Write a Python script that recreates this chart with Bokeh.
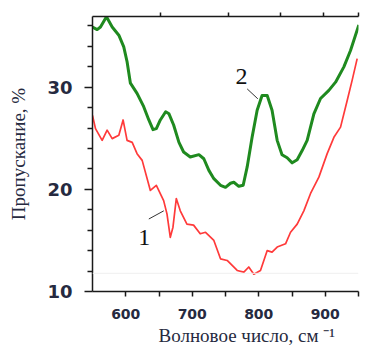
from bokeh.plotting import figure
from bokeh.models import (Range1d, LinearAxis, FixedTicker, ColumnDataSource,
                          Span, CustomJSTickFormatter, Title)
from bokeh.core.properties import value
from bokeh.embed import file_html
from bokeh.resources import INLINE

# ---- data ----
wn_red = [550, 554.5, 564.5, 572, 579.6, 589.6, 596, 602, 609.7, 617, 624.7, 637, 646,
          657, 662, 667, 671, 676, 682, 692, 702, 712, 720, 732.5, 742.5, 752.5, 767.6,
          777.6, 785, 792.6, 802.6, 812.6, 820, 827.7, 840.3, 847.8, 857.8, 867.8, 877.9,
          890.4, 902.9, 913, 923, 933, 940.5, 948]
t_red = [27.25, 25.95, 24.8, 25.8, 24.97, 25.3, 26.8, 24.8, 24.6, 23.5, 22.84, 19.9, 20.4,
         18.9, 17.6, 15.3, 16.3, 19.1, 17.9, 16.6, 16.5, 15.65, 15.8, 15.0, 13.2, 13.04, 12.06,
         11.9, 12.4, 11.7, 12.06, 14.0, 13.85, 14.35, 14.67, 15.8, 16.6, 17.9, 19.6,
         21.2, 23.5, 25.1, 26.1, 28.7, 30.7, 32.8]

wn_green = [550, 557, 562, 571, 579.6, 589.6, 597, 602, 607, 617, 627, 634.7, 641, 646, 652,
            660, 665, 672, 680, 687, 697, 710, 717.4, 725, 732.5, 742.5, 750, 757.5, 762.5,
            770, 776.6, 782.6, 790, 797.6, 805, 812.7, 820, 827.7, 835, 842.7, 850.3, 857.8,
            865.3, 872.8, 882.9, 892.9, 905.4, 915.5, 928, 938, 950.5]
t_green = [35.9, 35.65, 35.9, 36.9, 35.9, 35.1, 33.95, 32.5, 30.4, 29.4, 28.1, 26.8, 25.85, 25.95,
           26.8, 27.6, 27.4, 26.3, 24.6, 23.66, 23.17, 23.4, 23.0, 21.86, 21.05, 20.4, 20.2, 20.6,
           20.7, 20.3, 20.4, 22.2, 25.1, 27.75, 29.2, 29.2, 27.75, 24.8, 23.4, 23.1, 22.6, 22.9,
           23.8, 24.8, 27.4, 28.9, 29.7, 30.5, 32.0, 33.6, 36.1]

x_major = [600, 700, 800, 900]
x_minor = [650, 750, 850, 950]
y_major = [10, 20, 30]
y_minor = [12, 14, 16, 18, 22, 24, 26, 28, 32, 34, 36]
top_ticks = [652, 754, 833, 897, 950]

curve_names = ["1", "2"]
name_x = [628, 774]
name_y = [15.3, 31.1]
leader_x0 = [634.7, 782.6]
leader_y0 = [17.1, 29.84]
leader_x1 = [657.2, 798.6]
leader_y1 = [17.9, 28.87]

x_title = "Волновое число, см \u207b\u00b9"
y_title = "Пропускание, %"

axis_col = "#1a1a1a"
text_col = "#262a40"

p = figure(width=369, height=347, output_backend="svg", toolbar_location=None,
           x_range=Range1d(550, 950), y_range=Range1d(10, 36.93),
           min_border_left=92, min_border_right=11, min_border_top=16, min_border_bottom=56,
           x_axis_location=None, y_axis_location=None)
p.outline_line_color = None
p.xgrid.visible = False
p.ygrid.visible = False
p.background_fill_color = "white"
p.border_fill_color = "white"

# faint scan line
p.add_layout(Span(location=11.78, dimension="width", line_color="#efefef", line_width=1))

# bottom axis
xb = LinearAxis(ticker=FixedTicker(ticks=x_major, minor_ticks=x_minor))
xb.axis_line_color = axis_col
xb.axis_line_width = 1.5
xb.major_tick_in = 0
xb.major_tick_out = 5
xb.minor_tick_in = 0
xb.minor_tick_out = 5
xb.major_tick_line_color = axis_col
xb.minor_tick_line_color = axis_col
xb.major_tick_line_width = 1.5
xb.minor_tick_line_width = 1.5
xb.major_label_text_font = "DejaVu Sans"
xb.major_label_text_font_size = "14px"
xb.major_label_text_font_style = "bold"
xb.major_label_text_color = text_col
xb.major_label_standoff = 12
p.add_layout(xb, "below")

# x title as a left-aligned title under the axis
p.add_layout(Title(text=x_title, align="left", offset=66, text_font="Liberation Serif",
                   text_font_size="19px", text_font_style="normal", text_color=text_col,
                   standoff=3), "below")

# top axis (ticks only)
xt = LinearAxis(ticker=FixedTicker(ticks=top_ticks, minor_ticks=[]),
                formatter=CustomJSTickFormatter(code="return ''"))
xt.axis_line_color = axis_col
xt.axis_line_width = 1.5
xt.major_tick_in = 0
xt.major_tick_out = 4
xt.major_tick_line_color = axis_col
xt.major_tick_line_width = 1.5
xt.major_label_text_font_size = "1px"
xt.major_label_standoff = 0
p.add_layout(xt, "above")

# left axis
yl = LinearAxis(ticker=FixedTicker(ticks=y_major, minor_ticks=y_minor), axis_label=y_title)
yl.axis_line_color = axis_col
yl.axis_line_width = 1.5
yl.major_tick_in = 0
yl.major_tick_out = 8
yl.minor_tick_in = 0
yl.minor_tick_out = 5
yl.major_tick_line_color = axis_col
yl.minor_tick_line_color = axis_col
yl.major_tick_line_width = 1.5
yl.minor_tick_line_width = 1.5
yl.major_label_text_font = "DejaVu Sans"
yl.major_label_text_font_size = "18px"
yl.major_label_text_font_style = "bold"
yl.major_label_text_color = text_col
yl.major_label_standoff = 12
yl.axis_label_text_font = "Liberation Serif"
yl.axis_label_text_font_size = "19px"
yl.axis_label_text_font_style = "normal"
yl.axis_label_text_color = text_col
yl.axis_label_standoff = 15
p.add_layout(yl, "left")

# curves
p.line(wn_red, t_red, line_color="#ff3a3a", line_width=1.7, line_join="round")
p.line(wn_green, t_green, line_color="#1f8a1f", line_width=3, line_join="round")

# curve labels + leader lines
p.segment(x0=leader_x0, y0=leader_y0, x1=leader_x1, y1=leader_y1,
          line_color="#333333", line_width=1)
src = ColumnDataSource(dict(x=name_x, y=name_y, t=curve_names))
p.text(x="x", y="y", text="t", source=src, text_font=value("Liberation Serif"),
       text_font_size="24px", text_color="#111111", text_align="center",
       text_baseline="middle")

open("out.html", "w").write(file_html(p, INLINE))
